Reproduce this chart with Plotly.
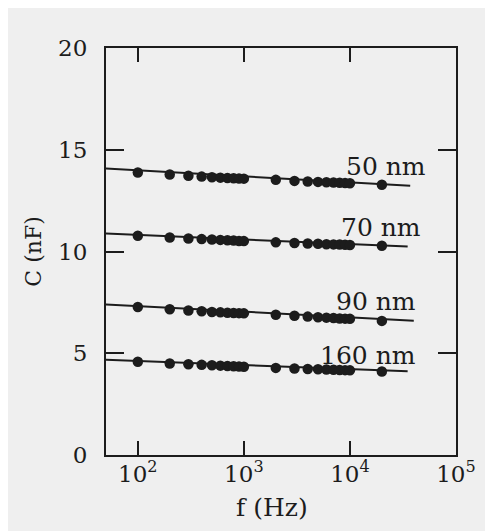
import plotly.graph_objects as go
import math

# ---- data ----
freq_hz = [100, 200, 300, 400, 500, 600, 700, 800, 900, 1000,
           2000, 3000, 4000, 5000, 6000, 7000, 8000, 9000, 10000, 20000]

c_50nm = [13.88, 13.78, 13.72, 13.68, 13.65, 13.63, 13.61, 13.60, 13.59, 13.58,
          13.52, 13.47, 13.44, 13.42, 13.40, 13.39, 13.38, 13.36, 13.35, 13.28]
c_70nm = [10.77, 10.69, 10.64, 10.61, 10.59, 10.57, 10.55, 10.54, 10.52, 10.51,
          10.45, 10.42, 10.39, 10.38, 10.36, 10.35, 10.34, 10.33, 10.32, 10.28]
c_90nm = [7.27, 7.16, 7.10, 7.06, 7.03, 7.01, 6.99, 6.98, 6.97, 6.96,
          6.89, 6.84, 6.80, 6.77, 6.75, 6.73, 6.71, 6.70, 6.69, 6.59]
c_160nm = [4.58, 4.50, 4.46, 4.43, 4.41, 4.39, 4.37, 4.36, 4.35, 4.34,
           4.28, 4.25, 4.23, 4.21, 4.20, 4.19, 4.18, 4.17, 4.16, 4.10]

series_names = ["50 nm", "70 nm", "90 nm", "160 nm"]
series_values = [c_50nm, c_70nm, c_90nm, c_160nm]

# fitted straight lines (start / end)
fit_f = [[50, 37000], [50, 35000], [50, 40000], [50, 35000]]
fit_c = [[14.08, 13.23], [10.89, 10.24], [7.40, 6.60], [4.68, 4.11]]

# label positions (right edge frequency, capacitance)
label_f = [55000, 49000, 44000, 44000]
label_c = [14.17, 11.16, 7.52, 4.87]

x_tick_vals = [100, 1000, 10000, 100000]
x_tick_text = ["10<sup>2</sup>", "10<sup>3</sup>", "10<sup>4</sup>", "10<sup>5</sup>"]
y_tick_vals = [0, 5, 10, 15, 20]
y_tick_text = ["0", "5", "10", "15", "20"]

FONT = "DejaVu Serif"
INK = "#1c1c1c"

fig = go.Figure()

for name, vals, ff, fc in zip(series_names, series_values, fit_f, fit_c):
    fig.add_trace(go.Scatter(x=ff, y=fc, mode="lines",
                             line=dict(color=INK, width=2),
                             showlegend=False, hoverinfo="skip"))
    fig.add_trace(go.Scatter(x=freq_hz, y=vals, mode="markers", name=name,
                             marker=dict(color=INK, size=10.5, line=dict(width=0)),
                             showlegend=False))

for name, lf, lc in zip(series_names, label_f, label_c):
    fig.add_annotation(x=math.log10(lf), y=lc, xref="x", yref="y", text=name,
                       showarrow=False, xanchor="right", yanchor="middle",
                       font=dict(family=FONT, size=25, color=INK))

# axis titles as annotations
fig.add_annotation(x=-0.208, y=0.5, xref="paper", yref="paper", text="C (nF)",
                   textangle=-90, showarrow=False, xanchor="center", yanchor="middle",
                   font=dict(family=FONT, size=22, color=INK))
fig.add_annotation(x=0.474, y=-0.128, xref="paper", yref="paper", text="f (Hz)",
                   showarrow=False, xanchor="center", yanchor="middle",
                   font=dict(family=FONT, size=25, color=INK))

fig.update_xaxes(type="log", range=[1.7, 5.0], tickvals=x_tick_vals, ticktext=x_tick_text,
                 ticks="inside", ticklen=14, tickwidth=2, tickcolor=INK,
                 showline=True, linewidth=2, linecolor=INK, mirror="ticks",
                 showgrid=False, zeroline=False,
                 tickfont=dict(family=FONT, size=23, color=INK), ticklabelstandoff=-3)
fig.update_yaxes(range=[0, 20], tickvals=y_tick_vals, ticktext=y_tick_text,
                 ticks="inside", ticklen=18, tickwidth=2, tickcolor=INK,
                 showline=True, linewidth=2, linecolor=INK, mirror="ticks",
                 showgrid=False, zeroline=False,
                 tickfont=dict(family=FONT, size=23, color=INK), ticklabelstandoff=12)

# page body adds an 8 px offset (white strip like the scan's border)
fig.update_layout(width=493, height=531, margin=dict(l=98, r=45, t=40, b=84),
                  paper_bgcolor="#efefef", plot_bgcolor="rgba(0,0,0,0)",
                  showlegend=False)

fig.write_html("out.html")
